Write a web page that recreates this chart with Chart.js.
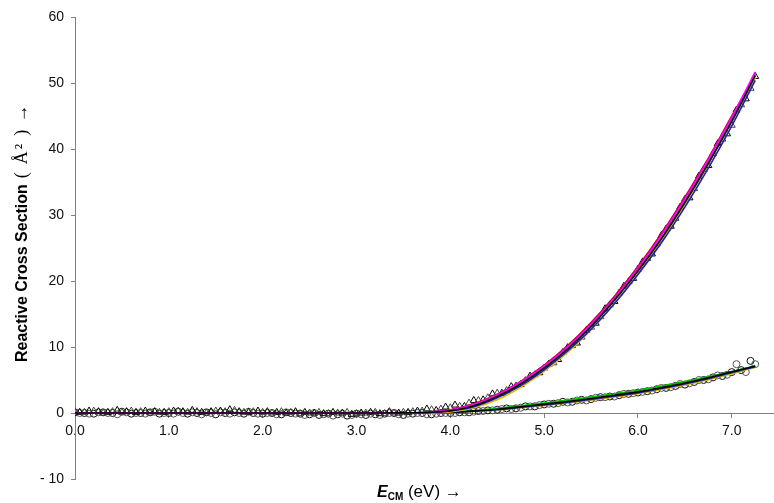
<!DOCTYPE html>
<html>
<head>
<meta charset="utf-8">
<script src="https://cdn.jsdelivr.net/npm/chart.js@4.4.1/dist/chart.umd.min.js"></script>
<style>
  html, body { margin: 0; background: #fff; overflow: hidden; }
  canvas { display: block; }
</style>
</head>
<body>
<!-- 5px wider than the window: Chart.js keeps a point-overflow margin on the right -->
<canvas id="crossSectionChart" width="779" height="503"></canvas>
<script>
// collision energies (eV), two interleaved sets of measurements
const energyA = [
  0.0, 0.1, 0.2, 0.3, 0.4, 0.5, 0.6, 0.7, 0.8, 0.9,
  1.0, 1.1, 1.2, 1.3, 1.4, 1.5, 1.6, 1.7, 1.8, 1.9,
  2.0, 2.1, 2.2, 2.3, 2.4, 2.5, 2.6, 2.7, 2.8, 2.9,
  3.0, 3.1, 3.2, 3.3, 3.4, 3.5, 3.6, 3.7, 3.8, 3.9,
  4.0, 4.1, 4.2, 4.3, 4.4, 4.5, 4.6, 4.7, 4.8, 4.9,
  5.0, 5.1, 5.2, 5.3, 5.4, 5.5, 5.6, 5.7, 5.8, 5.9,
  6.0, 6.1, 6.2, 6.3, 6.4, 6.5, 6.6, 6.7, 6.8, 6.9,
  7.0, 7.1, 7.2
];
const energyB = [
  0.05, 0.15, 0.25, 0.35, 0.45, 0.55, 0.65, 0.75, 0.85, 0.95,
  1.05, 1.15, 1.25, 1.35, 1.45, 1.55, 1.65, 1.75, 1.85, 1.95,
  2.05, 2.15, 2.25, 2.35, 2.45, 2.55, 2.65, 2.75, 2.85, 2.95,
  3.05, 3.15, 3.25, 3.35, 3.45, 3.55, 3.65, 3.75, 3.85, 3.95,
  4.05, 4.15, 4.25, 4.35, 4.45, 4.55, 4.65, 4.75, 4.85, 4.95,
  5.05, 5.15, 5.25, 5.35, 5.45, 5.55, 5.65, 5.75, 5.85, 5.95,
  6.05, 6.15, 6.25, 6.35, 6.45, 6.55, 6.65, 6.75, 6.85, 6.95,
  7.05, 7.15, 7.25
];

// triangles (upper channel)
const triangleA = [
  0.2, 0.1, 0.3, 0.0, 0.2, 0.1, 0.3, 0.2, 0.0, 0.1,
  0.2, 0.3, 0.1, 0.2, 0.0, 0.3, 0.2, 0.4, 0.1, 0.2,
  0.1, 0.0, 0.2, 0.1, -0.1, 0.0, 0.1, -0.1, 0.0, 0.1,
  -0.1, 0.0, 0.1, -0.1, 0.0, 0.1, 0.2, 0.3, 0.5, 0.6,
  0.8, 1.0, 1.5, 1.9, 2.3, 3.0, 3.4, 4.1, 4.9, 5.8,
  6.8, 7.6, 9.2, 10.2, 11.5, 13.0, 14.6, 16.4, 18.2, 19.9,
  21.8, 23.4, 25.6, 27.9, 29.5, 32.4, 34.0, 36.9, 39.3, 41.5,
  43.6, 46.7, 49.2
];
const triangleB = [
  0.1, 0.3, 0.2, 0.1, 0.4, 0.2, 0.1, 0.3, 0.2, 0.1,
  0.3, 0.2, 0.4, 0.1, 0.2, 0.3, 0.5, 0.2, 0.1, 0.3,
  0.2, 0.1, 0.0, 0.2, 0.1, 0.0, -0.1, 0.1, 0.0, -0.2,
  0.0, 0.1, -0.1, 0.2, 0.0, 0.1, 0.3, 0.6, 0.4, 0.9,
  1.2, 1.0, 1.9, 2.0, 2.9, 3.0, 4.0, 4.3, 5.6, 6.1,
  7.4, 8.1, 9.9, 10.6, 12.5, 13.6, 15.8, 16.9, 19.2, 20.4,
  22.9, 24.1, 26.9, 28.3, 31.2, 32.6, 35.9, 37.5, 40.8, 42.3,
  45.9, 47.6, 51.0
];

// circles (lower channel)
const circleA = [
  0.0, -0.1, 0.1, 0.0, -0.2, 0.1, 0.0, -0.1, 0.2, 0.0,
  -0.1, 0.0, 0.1, -0.2, 0.0, 0.1, -0.1, 0.0, 0.2, -0.1,
  0.0, -0.2, 0.1, -0.1, -0.3, 0.0, -0.2, -0.4, -0.1, -0.3,
  -0.2, -0.1, -0.3, 0.0, -0.2, -0.1, 0.0, -0.2, -0.1, 0.0,
  0.0, 0.1, 0.2, 0.3, 0.4, 0.6, 0.6, 0.8, 1.0, 1.2,
  1.4, 1.5, 1.6, 1.9, 1.9, 2.3, 2.4, 2.5, 2.9, 3.0,
  3.2, 3.4, 3.8, 3.9, 4.4, 4.5, 5.0, 5.1, 5.7, 5.8,
  7.4, 6.2, 7.4
];
const circleB = [
  0.1, 0.0, -0.1, 0.1, 0.0, 0.2, -0.1, 0.0, 0.1, -0.1,
  0.0, 0.2, -0.1, 0.0, 0.1, -0.2, 0.0, 0.1, -0.1, 0.0,
  -0.1, 0.0, -0.2, 0.0, -0.1, -0.2, -0.3, -0.1, -0.2, -0.4,
  -0.1, -0.3, -0.2, -0.1, 0.0, -0.3, -0.1, 0.0, -0.2, 0.0,
  0.0, 0.1, 0.1, 0.3, 0.4, 0.5, 0.7, 0.7, 1.0, 1.0,
  1.3, 1.4, 1.7, 1.7, 2.0, 2.1, 2.4, 2.5, 2.7, 2.9,
  3.1, 3.3, 3.6, 3.8, 4.1, 4.3, 4.7, 5.0, 5.4, 5.6,
  6.2, 6.5, 7.9
];

// fitted model curves
const fitEnergy = [0, 0.5, 1.0, 1.5, 2.0, 2.5, 3.0, 3.25, 3.5, 3.75, 4.0, 4.25, 4.5, 4.75,
  5.0, 5.25, 5.5, 5.75, 6.0, 6.25, 6.5, 6.75, 7.0, 7.25];
const upperFitPurple = [0, 0, 0, 0, 0, 0, 0, 0, 0.02, 0.1, 0.4, 1.2, 2.6, 4.5, 6.9, 9.8, 13.2, 17.2, 21.6, 26.5, 32.0, 38.0, 44.4, 51.4];
const upperFitBlue = [0, 0, 0, 0, 0, 0, 0, 0, 0, 0.05, 0.3, 0.95, 2.3, 4.15, 6.55, 9.4, 12.7, 16.6, 21.0, 25.8, 31.2, 37.1, 43.5, 50.4];
const upperFitRed = [0, 0, 0, 0, 0, 0, 0, 0, 0.03, 0.12, 0.5, 1.4, 2.85, 4.8, 7.25, 10.2, 13.7, 17.7, 22.2, 27.2, 32.7, 38.6, 45.0, 51.2];
const upperFitYellow = [0, 0, 0, 0, 0, 0, 0, 0, 0, 0.0, 0.15, 0.8, 2.0, 3.9, 6.3, 9.2, 12.6, 16.6, 21.1, 26.1, 31.6, 37.7, 44.2, 50.8];
const upperFitMagenta = [0, 0, 0, 0, 0, 0, 0, 0, 0.02, 0.1, 0.45, 1.3, 2.75, 4.7, 7.1, 10.0, 13.45, 17.4, 21.9, 26.9, 32.4, 38.4, 44.8, 51.7];
const upperFitBlack = [0, 0, 0, 0, 0, 0, 0, 0, 0.02, 0.08, 0.35, 1.1, 2.5, 4.4, 6.8, 9.7, 13.1, 17.1, 21.5, 26.4, 31.9, 37.8, 44.2, 51.1];
const lowerFitGreen = [0, 0, 0, 0, 0, 0, 0, 0, 0, 0, 0.15, 0.38, 0.7, 1.08, 1.52, 1.95, 2.42, 2.92, 3.45, 4.08, 4.75, 5.5, 6.3, 7.15];
const lowerFitCyan = [0, 0, 0, 0, 0, 0, 0, 0, 0, 0, 0.1, 0.3, 0.55, 0.9, 1.3, 1.7, 2.15, 2.65, 3.15, 3.8, 4.5, 5.3, 6.2, 7.1];
const lowerFitYellow = [0, 0, 0, 0, 0, 0, 0, 0, 0, 0, 0.05, 0.22, 0.45, 0.8, 1.15, 1.55, 1.95, 2.42, 2.92, 3.55, 4.25, 5.05, 5.95, 6.9];
const lowerFitNavy = [0, 0, 0, 0, 0, 0, 0, 0, 0, 0, 0.1, 0.26, 0.5, 0.84, 1.22, 1.6, 2.05, 2.55, 3.05, 3.7, 4.4, 5.2, 6.1, 7.0];
const lowerFitBlack = [0, 0, 0, 0, 0, 0, 0, 0, 0, 0, 0.08, 0.3, 0.58, 0.95, 1.35, 1.75, 2.2, 2.7, 3.2, 3.85, 4.55, 5.35, 6.25, 7.1];

const xTickStep = 1;
const yTickStep = 10;

function pairUp(xs, ys) {
  return xs.map((x, i) => ({ x: x, y: ys[i] }));
}

function markers(xs, ys, style, colour) {
  return {
    data: pairUp(xs, ys),
    pointStyle: style,
    pointRadius: style === 'triangle' ? 4 : 3.5,
    pointBorderColor: colour,
    pointBackgroundColor: 'rgba(255,255,255,0)',
    pointBorderWidth: 1,
    showLine: false,
    order: 20
  };
}

function fit(ys, colour, order) {
  return {
    data: pairUp(fitEnergy, ys),
    showLine: true,
    borderColor: colour,
    borderWidth: 1.6,
    pointRadius: 0,
    cubicInterpolationMode: 'monotone',
    order: order
  };
}

// axis titles need mixed fonts, so they are drawn by hand
const axisTitles = {
  id: 'axisTitles',
  afterDraw(chart) {
    const ctx = chart.ctx;
    ctx.save();
    ctx.fillStyle = '#000';
    ctx.textBaseline = 'alphabetic';

    // x title: E_CM (eV) ->
    let x = 377;
    const base = 497;
    ctx.font = 'italic bold 16px "Liberation Sans", Arial, sans-serif';
    ctx.fillText('E', x, base);
    x += ctx.measureText('E').width;
    ctx.font = 'bold 10px "Liberation Sans", Arial, sans-serif';
    ctx.fillText('CM', x, base + 3);
    x += ctx.measureText('CM').width;
    ctx.font = '17px "Liberation Sans", Arial, sans-serif';
    ctx.fillText(' (eV) \u2192', x, base);

    // y title, rotated
    ctx.translate(27, 362);
    ctx.rotate(-Math.PI / 2);
    let y = 0;
    ctx.font = 'bold 16px "Liberation Sans", Arial, sans-serif';
    ctx.fillText('Reactive Cross Section', y, 0);
    y += ctx.measureText('Reactive Cross Section').width + 6;
    ctx.font = '18px "Liberation Serif", "Times New Roman", serif';
    const unit = ['(', '\u00C5', '\u00B2', ')'];
    const gaps = [8, 2, 8, 0];
    unit.forEach((ch, i) => {
      ctx.fillText(ch, y, 0);
      y += ctx.measureText(ch).width + gaps[i];
    });
    y += 7;
    ctx.font = '18px "Liberation Sans", Arial, sans-serif';
    ctx.fillText('\u2192', y, 0);
    ctx.restore();
  }
};

const ctx = document.getElementById('crossSectionChart').getContext('2d');
const crossSectionChart = new Chart(ctx, {
  type: 'scatter',
  data: {
    datasets: [
      fit(upperFitBlack, '#000000', 1),
      fit(upperFitMagenta, '#ff00ff', 2),
      fit(upperFitPurple, '#7030a0', 3),
      fit(upperFitBlue, '#1f1fb4', 4),
      fit(upperFitRed, '#c00040', 5),
      fit(upperFitYellow, '#e6b800', 6),
      fit(lowerFitBlack, '#000000', 7),
      fit(lowerFitNavy, '#202090', 8),
      fit(lowerFitCyan, '#00cccc', 9),
      fit(lowerFitYellow, '#d4c000', 10),
      fit(lowerFitGreen, '#00c000', 11),
      markers(energyA, triangleA, 'triangle', '#444444'),
      markers(energyB, triangleB, 'triangle', '#000000'),
      markers(energyB, circleA, 'circle', '#555555'),
      markers(energyA, circleB, 'circle', '#111111')
    ]
  },
  options: {
    responsive: false,
    animation: false,
    layout: { padding: { left: 0, top: 17, right: 0, bottom: 24 } },
    plugins: {
      legend: { display: false },
      tooltip: { enabled: false }
    },
    scales: {
      x: {
        type: 'linear',
        position: { y: 0 },
        min: 0,
        max: 7.45,
        grid: { drawOnChartArea: false, color: '#808080', tickLength: 4 },
        border: { color: '#808080', width: 1 },
        ticks: {
          stepSize: xTickStep,
          includeBounds: false,
          padding: 6,
          maxRotation: 0,
          color: '#111',
          font: { family: '"Liberation Sans", Arial, sans-serif', size: 14 },
          callback: (v) => v.toFixed(1)
        }
      },
      y: {
        min: -10,
        max: 60,
        afterFit: (scale) => { scale.width = 75; },
        grid: { drawOnChartArea: false, color: '#808080', tickLength: 4 },
        border: { color: '#808080', width: 1 },
        ticks: {
          stepSize: yTickStep,
          padding: 7,
          color: '#111',
          font: { family: '"Liberation Sans", Arial, sans-serif', size: 14 },
          callback: (v) => v < 0 ? '- ' + Math.abs(v) : String(v)
        }
      }
    }
  },
  plugins: [axisTitles]
});
</script>
</body>
</html>
